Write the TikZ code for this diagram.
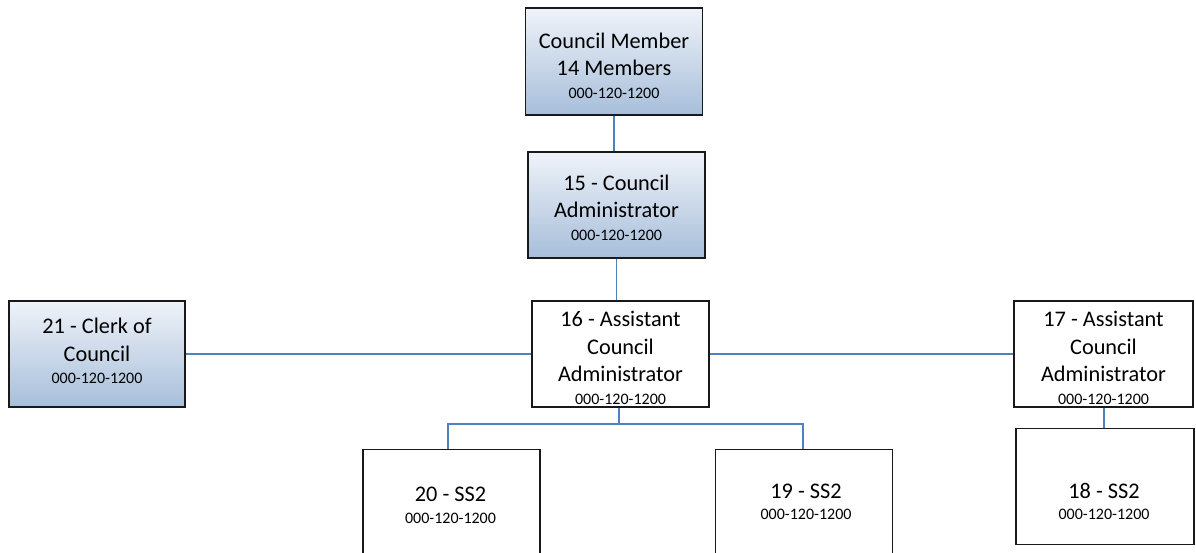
\documentclass[tikz,border=0pt]{standalone}
\usepackage{fontspec}
\setmainfont{Carlito}
\definecolor{linkblue}{HTML}{4F81BD}
\definecolor{boxtop}{HTML}{EFF3F9}
\definecolor{boxbot}{HTML}{A7BEDA}
\newcommand{\bigf}{\fontsize{22.3}{27.5}\selectfont}
\newcommand{\smlf}{\fontsize{16}{21}\selectfont}
\tikzset{
  orgbox/.style={draw=black!90, line width=1.2pt, inner sep=0pt},
  shadedbox/.style={top color=boxtop, bottom color=boxbot},
  plainbox/.style={fill=white},
  lbl/.style={align=center, inner sep=0pt, font=\bigf},
  link/.style={draw=linkblue, line width=1.4pt},
}
\begin{document}
\begin{tikzpicture}[x=1pt,y=-1pt]
\useasboundingbox (0,0) rectangle (1196,553);
\clip (0,0) rectangle (1196,553);
% boxes
\node[orgbox, shadedbox, minimum width=177pt, minimum height=107pt] (cm) at (614,61.5) {};
\node[orgbox, shadedbox, minimum width=177pt, minimum height=106pt] (ca) at (616.5,205) {};
\node[orgbox, plainbox, minimum width=177pt, minimum height=106pt] (a16) at (620.5,354) {};
\node[orgbox, shadedbox, minimum width=176pt, minimum height=106pt] (clerk) at (97,354) {};
\node[orgbox, plainbox, minimum width=179pt, minimum height=106pt] (a17) at (1103.5,354) {};
\node[orgbox, plainbox, minimum width=177pt, minimum height=110pt, anchor=north] (s20) at (451.5,449) {};
\node[orgbox, plainbox, minimum width=177pt, minimum height=110pt, anchor=north] (s19) at (804,449) {};
\node[orgbox, plainbox, minimum width=178pt, minimum height=116pt, anchor=north] (s18) at (1105,428) {};
% texts
\node[lbl] (tcm) at (614,65.5) {Council Member\\14 Members\\[-5pt]\smlf 000-120-1200};
\node[lbl] (tca) at (616.5,207.5) {15 - Council\\Administrator\\[-5pt]\smlf 000-120-1200};
\node[lbl] (t16) at (620.5,358) {16 - Assistant\\Council\\Administrator\\[-5pt]\smlf 000-120-1200};
\node[lbl] (tclerk) at (97,351) {21 - Clerk of\\Council\\[-5pt]\smlf 000-120-1200};
\node[lbl] (t17) at (1103.5,358) {17 - Assistant\\Council\\Administrator\\[-5pt]\smlf 000-120-1200};
\node[lbl] (t20) at (450.5,505.5) {20 - SS2\\[-6pt]\smlf 000-120-1200};
\node[lbl] (t19) at (806,502) {19 - SS2\\[-6pt]\smlf 000-120-1200};
\node[lbl] (t18) at (1104,501.5) {18 - SS2\\[-6pt]\smlf 000-120-1200};
% connectors
\coordinate (j16) at (619,424);
\coordinate (j20) at (448,424);
\coordinate (j19) at (803,424);
\coordinate (x17) at (1104,0);
\draw[link] (cm.south) -- (cm.south |- ca.north);
\draw[link] (ca.south) -- (ca.south |- a16.north);
\draw[link] (clerk.east) -- (a16.west);
\draw[link] (a16.east) -- (a17.west);
\draw[link] (a16.south -| j16) -- (j16);
\draw[link] (s20.north -| j20) -- (j20) -- (j19) -- (s19.north -| j19);
\draw[link] (a17.south -| x17) -- (s18.north -| x17);
\end{tikzpicture}
\end{document}
